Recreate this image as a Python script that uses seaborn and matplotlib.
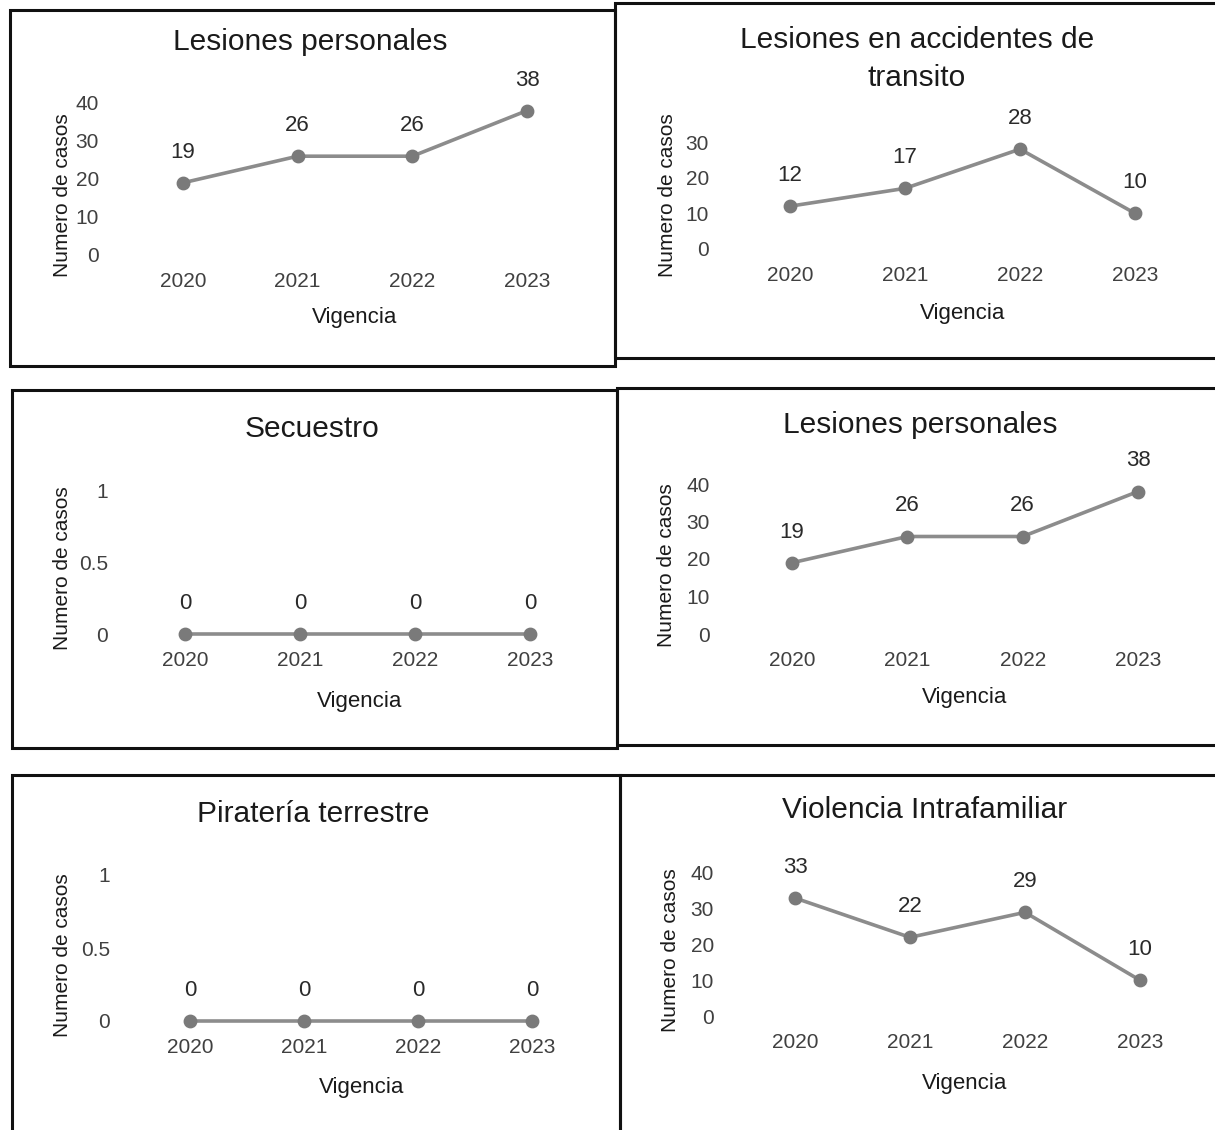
import matplotlib
matplotlib.use("Agg")
import matplotlib.pyplot as plt
import seaborn as sns
from matplotlib.patches import Rectangle

sns.set_theme(style="white")
plt.rcParams["font.family"] = ["Liberation Sans", "DejaVu Sans"]

# ---- data ----
years = ["2020", "2021", "2022", "2023"]
titles = ["Lesiones personales", "Lesiones en accidentes de\ntransito",
          "Secuestro", "Lesiones personales",
          "Piratería terrestre", "Violencia Intrafamiliar"]
lesiones_personales = [19, 26, 26, 38]
lesiones_transito = [12, 17, 28, 10]
secuestro = [0, 0, 0, 0]
pirateria = [0, 0, 0, 0]
violencia = [33, 22, 29, 10]
series = [lesiones_personales, lesiones_transito, secuestro,
          lesiones_personales, pirateria, violencia]
yticks = [[0, 10, 20, 30, 40], [0, 10, 20, 30], [0, 0.5, 1],
          [0, 10, 20, 30, 40], [0, 0.5, 1], [0, 10, 20, 30, 40]]
yticklabels = [["0", "10", "20", "30", "40"], ["0", "10", "20", "30"],
               ["0", "0.5", "1"], ["0", "10", "20", "30", "40"],
               ["0", "0.5", "1"], ["0", "10", "20", "30", "40"]]

W, H = 1215, 1130
fig = plt.figure(figsize=(W / 100, H / 100), dpi=100)

# layout in pixels: x of 2020, x of 2023, y of zero, y of top tick, axes left,
# title centre, ylabel centre, xlabel centre
layout = [
    dict(px0=183, px3=527, py0=255, pyt=103, left=106, title=(310, 50), ylab=(62, 195), xlab=(355, 318)),
    dict(px0=790, px3=1135, py0=249, pyt=142, left=716, title=(917, 67), ylab=(667, 195), xlab=(963, 313)),
    dict(px0=185, px3=530, py0=634, pyt=490, left=115, title=(312, 437), ylab=(62, 568), xlab=(360, 702)),
    dict(px0=792, px3=1138, py0=634, pyt=484, left=717, title=(920, 433), ylab=(667, 565), xlab=(965, 698)),
    dict(px0=190, px3=532, py0=1021, pyt=875, left=117, title=(313, 822), ylab=(62, 955), xlab=(362, 1087)),
    dict(px0=795, px3=1140, py0=1016, pyt=873, left=721, title=(925, 818), ylab=(670, 950), xlab=(965, 1083)),
]

for i, (vals, lay) in enumerate(zip(series, layout)):
    step = (lay["px3"] - lay["px0"]) / 3
    xlo = -(lay["px0"] - lay["left"]) / step
    xhi = 3.35
    right = lay["px0"] + xhi * step
    wpx, hpx = right - lay["left"], lay["py0"] - lay["pyt"]
    ax = fig.add_axes([lay["left"] / W, 1 - lay["py0"] / H, wpx / W, hpx / H])
    ax.patch.set_alpha(0)

    sns.pointplot(x=years, y=vals, ax=ax, color="#8c8c8c", errorbar=None,
                  markers="o", markersize=8, linewidth=2.6)
    for ln in ax.lines:
        ln.set_clip_on(False)
        ln.set_markerfacecolor("#7a7a7a")
        ln.set_markeredgecolor("#7a7a7a")
    ax.set_xlim(xlo, xhi)
    ax.set_ylim(0, yticks[i][-1])
    ax.set_yticks(yticks[i])
    ax.set_yticklabels(yticklabels[i])
    ax.tick_params(axis="both", length=0, labelsize=15, labelcolor="#404040")
    ax.tick_params(axis="x", pad=12)
    ax.tick_params(axis="y", pad=5)
    for s in ax.spines.values():
        s.set_visible(False)
    ax.grid(False)

    for k, v in enumerate(vals):
        ax.annotate(f"{v}", (k, v), xytext=(0, 22), textcoords="offset points",
                    ha="center", va="center", fontsize=16, color="#2a2a2a")

    ax.set_title(titles[i], fontsize=21.5, color="#1a1a1a", va="center",
                 linespacing=1.45, x=(lay["title"][0] - lay["left"]) / wpx,
                 y=(lay["py0"] - lay["title"][1]) / hpx)
    ax.set_ylabel("Numero de casos", fontsize=15, color="#1a1a1a", va="center")
    ax.yaxis.set_label_coords((lay["ylab"][0] - lay["left"]) / wpx,
                              (lay["py0"] - lay["ylab"][1]) / hpx)
    ax.set_xlabel("Vigencia", fontsize=16, color="#1a1a1a", va="center")
    ax.xaxis.set_label_coords((lay["xlab"][0] - lay["left"]) / wpx,
                              (lay["py0"] - lay["xlab"][1]) / hpx)

# panel frames (pixels: x0, y0, x1, y1)
boxes = [(10, 10, 615, 366), (615, 3, 1222, 358),
         (12, 390, 617, 748), (617, 388, 1222, 745),
         (12, 775, 620, 1140), (620, 775, 1222, 1140)]
for x0, y0, x1, y1 in boxes:
    fig.add_artist(Rectangle((x0 / W, 1 - y1 / H), (x1 - x0) / W, (y1 - y0) / H,
                             transform=fig.transFigure, fill=False,
                             edgecolor="#111111", linewidth=2.2))

fig.savefig("out.png", dpi=100, facecolor="white")
